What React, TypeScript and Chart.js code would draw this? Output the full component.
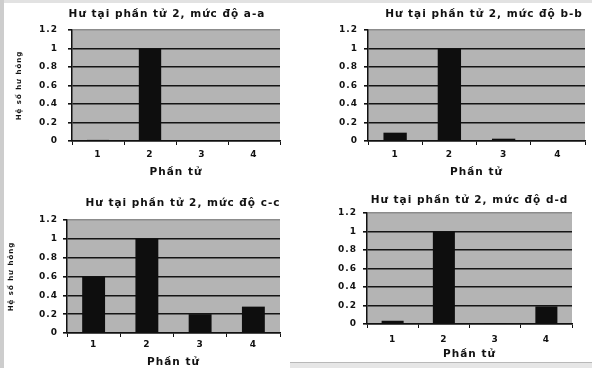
import React, { useEffect, useRef } from "react";
import { Chart, registerables } from "chart.js";

Chart.register(...registerables);

const categories = ["1", "2", "3", "4"];
const valuesAA = [0.012, 1, 0.005, 0.005];
const valuesBB = [0.09, 1, 0.025, 0.008];
const valuesCC = [0.6, 1, 0.2, 0.28];
const valuesDD = [0.035, 1, 0.004, 0.19];
const chartTitles = [
  "Hư tại phần tử 2, mức độ a-a",
  "Hư tại phần tử 2, mức độ b-b",
  "Hư tại phần tử 2, mức độ c-c",
  "Hư tại phần tử 2, mức độ d-d",
];
const yAxisTitle = "Hệ số hư hỏng";
const xAxisTitle = "Phần tử";
const yTickValues = [0, 0.2, 0.4, 0.6, 0.8, 1, 1.2];
const yTickLabels = ["0", "0.2", "0.4", "0.6", "0.8", "1", "1.2"];

const FONT = "'DejaVu Sans', Verdana, sans-serif";
const PLOT_BG = "#b4b4b4";
const BAR = "#0e0e0e";

type Panel = {
  values: number[];
  title: string;
  left: number;
  top: number;
  width: number;
  height: number;
  rightSpace: number;
  titleTop: number;
  titleBottom: number;
  titleFull: boolean;
  yWidth: number;
  xHeight: number;
  showYTitle: boolean;
  yTitlePad: number;
  yTickPad: number;
  xTickPad: number;
  xTitlePadBottom: number;
};

const panels: Panel[] = [
  { values: valuesAA, title: chartTitles[0], left: 0, top: 0, width: 334, height: 184, rightSpace: 54, titleTop: 8, titleBottom: 10, titleFull: true, yWidth: 72, xHeight: 43, showYTitle: true, yTitlePad: 15, yTickPad: 10, xTickPad: 5, xTitlePadBottom: 6 },
  { values: valuesBB, title: chartTitles[1], left: 296, top: 0, width: 376, height: 184, rightSpace: 87, titleTop: 8, titleBottom: 10, titleFull: true, yWidth: 72, xHeight: 43, showYTitle: false, yTitlePad: 0, yTickPad: 6, xTickPad: 5, xTitlePadBottom: 6 },
  { values: valuesCC, title: chartTitles[2], left: 0, top: 184, width: 366, height: 184, rightSpace: 86, titleTop: 13, titleBottom: 11, titleFull: true, yWidth: 67, xHeight: 35, showYTitle: true, yTitlePad: 7, yTickPad: 5, xTickPad: 3, xTitlePadBottom: 0 },
  { values: valuesDD, title: chartTitles[3], left: 330, top: 184, width: 262, height: 180, rightSpace: 20, titleTop: 10, titleBottom: 7, titleFull: false, yWidth: 37, xHeight: 40, showYTitle: false, yTitlePad: 0, yTickPad: 6, xTickPad: 7, xTitlePadBottom: 4 },
];

const plotBg = {
  id: "plotBg",
  beforeDraw(chart: any) {
    const { ctx, chartArea } = chart;
    (ctx as any).letterSpacing = "1px";
    if (!chartArea) return;
    ctx.save();
    ctx.fillStyle = PLOT_BG;
    ctx.fillRect(chartArea.left, chartArea.top, chartArea.right - chartArea.left, chartArea.bottom - chartArea.top);
    ctx.restore();
  },
};

function BarPanel({ p }: { p: Panel }) {
  const ref = useRef<HTMLCanvasElement | null>(null);
  useEffect(() => {
    if (!ref.current) return;
    const chart = new Chart(ref.current, {
      type: "bar",
      data: {
        labels: categories,
        datasets: [
          {
            data: p.values,
            backgroundColor: BAR,
            borderWidth: 0,
            barPercentage: 0.43,
            categoryPercentage: 1,
          },
        ],
      },
      plugins: [plotBg],
      options: {
        animation: false,
        responsive: false,
        maintainAspectRatio: false,
        events: [],
        layout: { padding: 0 },
        plugins: {
          legend: { display: false },
          tooltip: { enabled: false },
          title: {
            display: true,
            text: p.title,
            fullSize: p.titleFull,
            color: "#111",
            font: { family: FONT, size: 10.5, weight: "bold", lineHeight: "12px" } as any,
            padding: { top: p.titleTop, bottom: p.titleBottom },
          },
        },
        scales: {
          x: {
            afterFit: (s: any) => {
              s.height = p.xHeight;
            },
            grid: {
              display: true,
              drawOnChartArea: false,
              drawTicks: true,
              tickLength: 4,
              tickColor: "#111",
              offset: true,
            },
            border: { display: true, color: "#111", width: 1.5 },
            ticks: {
              color: "#111",
              padding: p.xTickPad,
              font: { family: FONT, size: 9, weight: "bold", lineHeight: "10px" } as any,
            },
            title: {
              display: true,
              text: xAxisTitle,
              color: "#111",
              font: { family: FONT, size: 10.5, weight: "bold", lineHeight: "12px" } as any,
              padding: { top: 0, bottom: p.xTitlePadBottom },
            },
          },
          y: {
            min: 0,
            max: 1.2,
            afterFit: (s: any) => {
              s.width = p.yWidth;
            },
            afterBuildTicks: (s: any) => {
              s.ticks = yTickValues.map((v) => ({ value: v }));
            },
            grid: {
              display: true,
              drawTicks: true,
              tickLength: 4,
              color: (c: any) => (c.tick && c.tick.value >= 1.2 ? "#8c8c8c" : "#151515"),
              lineWidth: 1.6,
              tickColor: "#111",
            },
            border: { display: true, color: "#111", width: 1.5 },
            ticks: {
              color: "#111",
              padding: p.yTickPad,
              font: { family: FONT, size: 9, weight: "bold", lineHeight: "10px" } as any,
              callback: (v: any) => {
                const i = yTickValues.findIndex((t) => Math.abs(t - Number(v)) < 1e-9);
                return i >= 0 ? yTickLabels[i] : "";
              },
            },
            title: {
              display: p.showYTitle,
              text: yAxisTitle,
              color: "#111",
              font: { family: FONT, size: 7, weight: "bold", lineHeight: "9px" } as any,
              padding: { top: p.yTitlePad, bottom: 0 },
            },
          },
          spacer: {
            type: "linear",
            position: "right",
            display: true,
            afterFit: (s: any) => {
              s.width = p.rightSpace;
            },
            grid: { display: false, drawTicks: false },
            border: { display: false },
            ticks: { display: false },
            title: { display: false },
          },
        },
      } as any,
    });
    return () => chart.destroy();
  }, [p]);
  return (
    <canvas
      ref={ref}
      width={p.width}
      height={p.height}
      style={{ position: "absolute", left: p.left, top: p.top, width: p.width, height: p.height }}
    />
  );
}

export default function App() {
  return (
    <div
      style={{
        position: "absolute",
        left: 0,
        top: 0,
        width: 592,
        height: 368,
        background: "#ffffff",
        overflow: "hidden",
      }}
    >
      <div style={{ position: "absolute", left: 0, top: 0, width: 592, height: 3, background: "#e2e2e2" }} />
      <div style={{ position: "absolute", left: 0, top: 0, width: 4, height: 368, background: "#cdcdcd" }} />
      <div style={{ position: "absolute", left: 290, top: 362, width: 302, height: 6, background: "#e6e6e6", borderTop: "1px solid #b8b8b8" }} />
      {panels.map((p, i) => (
        <BarPanel key={i} p={p} />
      ))}
    </div>
  );
}
